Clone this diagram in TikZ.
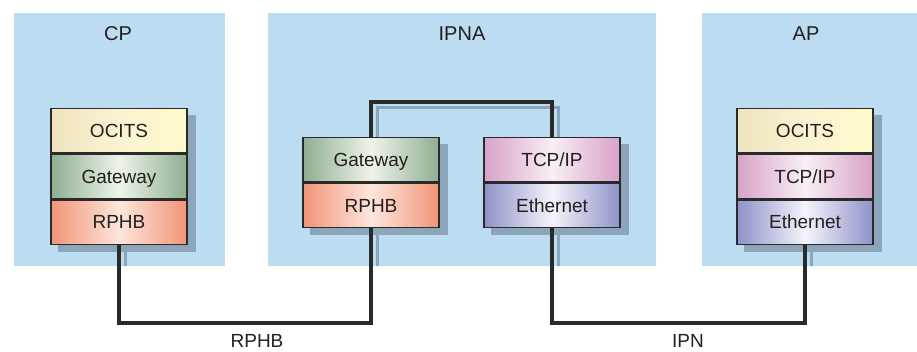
\documentclass[tikz,border=0pt]{standalone}
\usepackage{fontspec}
\setmainfont{Liberation Sans}
\usetikzlibrary{positioning}

\definecolor{panelblue}{HTML}{BCDCF2}
\definecolor{shadowblue}{HTML}{8DA5B9}
\definecolor{boxline}{HTML}{2A2A2A}
\definecolor{textgray}{HTML}{231F20}
\definecolor{ocitsedge}{HTML}{EEE3BF}
\definecolor{ocitsmid}{HTML}{FAF3D2}
\definecolor{ocitsright}{HTML}{FFF9CA}
\definecolor{gwedge}{HTML}{8FAE92}
\definecolor{gwmid}{HTML}{EEF4E8}
\definecolor{rphbedge}{HTML}{F29478}
\definecolor{rphbmid}{HTML}{FDE6DC}
\definecolor{tcpedge}{HTML}{D8A2C7}
\definecolor{tcpmid}{HTML}{F8EFF6}
\definecolor{ethedge}{HTML}{8E92C8}
\definecolor{ethmid}{HTML}{F4F4FA}

\pgfdeclarelayer{panels}
\pgfdeclarelayer{shadows}
\pgfsetlayers{panels,shadows,main}

\tikzset{
  layer/.style={draw=boxline, line width=1.3pt, minimum width=136pt, minimum height=44.5pt,
    inner sep=0pt, text height=13.6pt, text depth=0pt, text=textgray, font=\fontsize{19}{22}\selectfont},
  ocits/.style={layer, left color=ocitsedge, right color=ocitsright, middle color=ocitsmid},
  gateway/.style={layer, left color=gwedge, right color=gwedge, middle color=gwmid},
  rphb/.style={layer, left color=rphbedge, right color=rphbedge, middle color=rphbmid},
  tcpip/.style={layer, left color=tcpedge, right color=tcpedge, middle color=tcpmid},
  ethernet/.style={layer, left color=ethedge, right color=ethedge, middle color=ethmid},
  title/.style={anchor=base, text=textgray, font=\fontsize{20}{24}\selectfont},
  netlabel/.style={anchor=base, text=textgray, font=\fontsize{19}{22}\selectfont},
  link/.style={draw=boxline, line width=3.2pt},
  linkshadow/.style={draw=shadowblue, line width=3pt}
}

\begin{document}
\begin{tikzpicture}[x=1pt, y=-1pt]
    \useasboundingbox (0,0) rectangle (917,351);

    % the three systems
    \begin{pgfonlayer}{panels}
        \fill[panelblue] (14,13) rectangle (225,266);
        \fill[panelblue] (268,13) rectangle (656,266);
        \fill[panelblue] (702,13) rectangle (917,266);
    \end{pgfonlayer}

    \node[title] (cptitle) at (118,40) {CP};
    \node[title] (ipnatitle) at (462,40) {IPNA};
    \node[title] (aptitle) at (806,40) {AP};

    % protocol stacks
    \node[ocits] (cpocits) at (119,130.5) {OCITS};
    \node[gateway, below=0pt of cpocits] (cpgw) {Gateway};
    \node[rphb, below=0pt of cpgw] (cprphb) {RPHB};

    \node[gateway] (ipgw) at (371,159.5) {Gateway};
    \node[rphb, below=0pt of ipgw] (iprphb) {RPHB};

    \node[tcpip] (iptcp) at (552,159.5) {TCP/IP};
    \node[ethernet, below=0pt of iptcp] (ipeth) {Ethernet};

    \node[ocits] (apocits) at (805,130.5) {OCITS};
    \node[tcpip, below=0pt of apocits] (aptcp) {TCP/IP};
    \node[ethernet, below=0pt of aptcp] (apeth) {Ethernet};

    \coordinate (rphbbus) at (256,323);
    \coordinate (ipnbus) at (688,323);
    \coordinate (bridge) at (462,102);

    % connections
    \draw[link] (cprphb.south) |- (rphbbus) -| (iprphb.south);
    \draw[link] (ipgw.north) |- (bridge) -| (iptcp.north);
    \draw[link] (ipeth.south) |- (ipnbus) -| (apeth.south);

    \node[netlabel] (rphblabel) at (257,347) {RPHB};
    \node[netlabel] (ipnlabel) at (688,347) {IPN};

    % shadows
    \begin{pgfonlayer}{shadows}
        \fill[shadowblue] ([shift={(8,7)}]cpocits.north west) rectangle ([shift={(8,7)}]cprphb.south east);
        \fill[shadowblue] ([shift={(8,7)}]ipgw.north west) rectangle ([shift={(8,7)}]iprphb.south east);
        \fill[shadowblue] ([shift={(8,7)}]iptcp.north west) rectangle ([shift={(8,7)}]ipeth.south east);
        \fill[shadowblue] ([shift={(8,7)}]apocits.north west) rectangle ([shift={(8,7)}]apeth.south east);
        \begin{scope}
            \clip (14,13) rectangle (225,266) (268,13) rectangle (656,266) (702,13) rectangle (917,266);
            \draw[linkshadow] ([shift={(6,5)}]cprphb.south) |- ([shift={(6,5)}]rphbbus) -| ([shift={(6,5)}]iprphb.south);
            \draw[linkshadow] ([shift={(6,5)}]ipgw.north) |- ([shift={(6,5)}]bridge) -| ([shift={(6,5)}]iptcp.north);
            \draw[linkshadow] ([shift={(6,5)}]ipeth.south) |- ([shift={(6,5)}]ipnbus) -| ([shift={(6,5)}]apeth.south);
        \end{scope}
    \end{pgfonlayer}
\end{tikzpicture}
\end{document}
